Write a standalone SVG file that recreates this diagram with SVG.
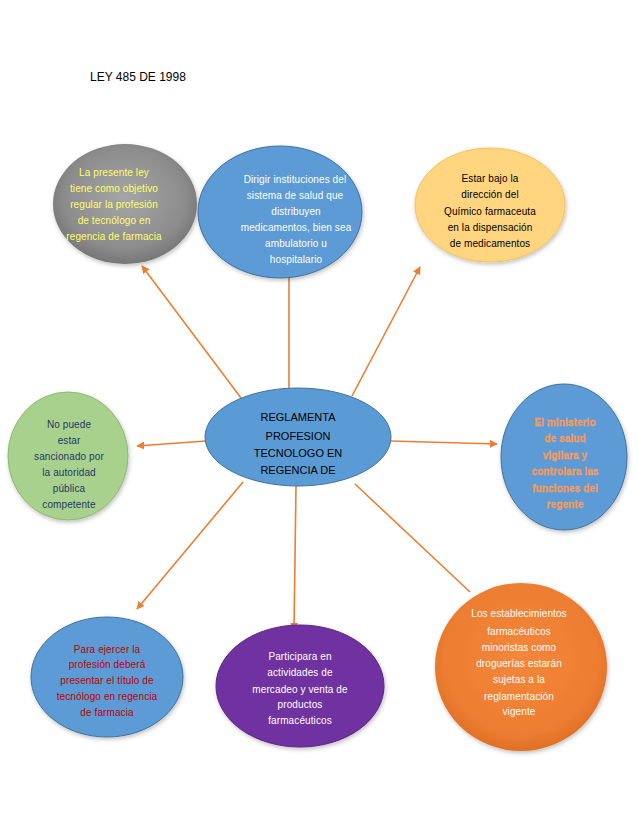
<svg xmlns="http://www.w3.org/2000/svg" width="638" height="826" viewBox="0 0 638 826">
<defs>
<style>
.t{font-family:"Liberation Sans","DejaVu Sans",sans-serif;font-size:10px;text-anchor:middle;letter-spacing:0.1px}
.c{font-family:"Liberation Sans",Arial,sans-serif;font-size:11px;text-anchor:middle;fill:#000}
.con{stroke:#ED7D31;stroke-width:1.6;fill:none}
</style>
<marker id="ah" viewBox="0 0 10 10" refX="9" refY="5" markerWidth="5" markerHeight="5" orient="auto">
<path d="M0,0 L10,5 L0,10 z" fill="#ED7D31"/>
</marker>
<radialGradient id="gGray" cx="0.5" cy="0.45" r="0.6">
<stop offset="0" stop-color="#A6A6A6"/><stop offset="0.7" stop-color="#8C8C8C"/><stop offset="1" stop-color="#6E6E6E"/>
</radialGradient>
<radialGradient id="gOrange" cx="0.5" cy="0.45" r="0.6">
<stop offset="0" stop-color="#F4873A"/><stop offset="0.75" stop-color="#ED7D31"/><stop offset="1" stop-color="#D9691F"/>
</radialGradient>
<filter id="sh" x="-20%" y="-20%" width="140%" height="140%">
<feDropShadow dx="1" dy="2" stdDeviation="2" flood-color="#000" flood-opacity="0.25"/>
</filter>
</defs>
<rect width="638" height="826" fill="#fff"/>
<text x="90" y="81" style="font-family:'Liberation Sans',Arial,sans-serif;font-size:12px;fill:#000">LEY 485 DE 1998</text>
<g id="connectors">
<line class="con" x1="241" y1="398" x2="142" y2="266" marker-end="url(#ah)"/>
<line class="con" x1="289" y1="389" x2="289" y2="270"/>
<line class="con" x1="352" y1="396" x2="420" y2="267" marker-end="url(#ah)"/>
<line class="con" x1="206" y1="441" x2="137" y2="446" marker-end="url(#ah)"/>
<line class="con" x1="391" y1="441" x2="497" y2="444" marker-end="url(#ah)"/>
<line class="con" x1="243" y1="482" x2="137" y2="609" marker-end="url(#ah)"/>
<line class="con" x1="296" y1="486" x2="294" y2="630" marker-end="url(#ah)"/>
<line class="con" x1="355" y1="484" x2="470" y2="592"/>
</g>
<g id="n_gray">
<ellipse cx="125" cy="204" rx="72" ry="60" fill="url(#gGray)" filter="url(#sh)"/>
<g class="t" fill="#FFFF66">
<text x="114" y="176">La presente ley</text>
<text x="114" y="192">tiene como objetivo</text>
<text x="114" y="208">regular la profesión</text>
<text x="114" y="224">de tecnólogo en</text>
<text x="114" y="240">regencia de farmacia</text>
</g>
</g>
<g id="n_blue_top">
<ellipse cx="280" cy="212" rx="82" ry="66" fill="#5B9BD5" stroke="#41719C" stroke-width="1" filter="url(#sh)"/>
<g class="t" fill="#fff">
<text x="295" y="183">Dirigir instituciones del</text>
<text x="295" y="199">sistema de salud que</text>
<text x="296" y="215">distribuyen</text>
<text x="296" y="231">medicamentos, bien sea</text>
<text x="296" y="247">ambulatorio u</text>
<text x="296" y="263">hospitalario</text>
</g>
</g>
<g id="n_yellow">
<ellipse cx="490" cy="205" rx="75" ry="57" fill="#FFD57F" stroke="#F2C25B" stroke-width="1" filter="url(#sh)"/>
<g class="t" fill="#000">
<text x="490" y="182">Estar bajo la</text>
<text x="490" y="198">dirección del</text>
<text x="490" y="215">Químico farmaceuta</text>
<text x="490" y="231">en la dispensación</text>
<text x="490" y="247">de medicamentos</text>
</g>
</g>
<g id="n_center">
<ellipse cx="298" cy="437" rx="93" ry="49" fill="#5B9BD5" stroke="#41719C" stroke-width="1"/>
<text class="c" x="298" y="421">REGLAMENTA</text>
<text class="c" x="298" y="440">PROFESION</text>
<text class="c" x="298" y="457">TECNOLOGO EN</text>
<text class="c" x="298" y="474">REGENCIA DE</text>
</g>
<g id="n_green">
<ellipse cx="68" cy="456" rx="60" ry="64" fill="#A9D18E" stroke="#8DB870" stroke-width="1" filter="url(#sh)"/>
<g class="t" fill="#1F3864">
<text x="69" y="428">No puede</text>
<text x="69" y="444">estar</text>
<text x="69" y="460">sancionado por</text>
<text x="69" y="476">la autoridad</text>
<text x="69" y="492">pública</text>
<text x="69" y="508">competente</text>
</g>
</g>
<g id="n_blue_right">
<ellipse cx="564" cy="457" rx="63" ry="73" fill="#5B9BD5" stroke="#41719C" stroke-width="1" filter="url(#sh)"/>
<g class="t" fill="#F58A3C" stroke="#F9B27A" stroke-width="0.3" font-weight="bold">
<text x="565" y="426">El ministerio</text>
<text x="565" y="442">de salud</text>
<text x="565" y="459">vigilara y</text>
<text x="565" y="475">controlara las</text>
<text x="565" y="492">funciones del</text>
<text x="565" y="508">regente</text>
</g>
</g>
<g id="n_blue_bl">
<ellipse cx="107" cy="677" rx="76" ry="60" fill="#5B9BD5" stroke="#41719C" stroke-width="1" filter="url(#sh)"/>
<g class="t" fill="#C00000">
<text x="107" y="653">Para ejercer la</text>
<text x="107" y="668">profesión deberá</text>
<text x="107" y="684">presentar el título de</text>
<text x="107" y="700">tecnólogo en regencia</text>
<text x="107" y="716">de farmacia</text>
</g>
</g>
<g id="n_purple">
<ellipse cx="300" cy="686" rx="84" ry="61" fill="#7030A0" stroke="#5A2682" stroke-width="1" filter="url(#sh)"/>
<g class="t" fill="#fff">
<text x="300" y="660">Participara en</text>
<text x="300" y="676">actividades de</text>
<text x="300" y="693">mercadeo y venta de</text>
<text x="300" y="708">productos</text>
<text x="300" y="724">farmacéuticos</text>
</g>
</g>
<g id="n_orange">
<ellipse cx="521" cy="667" rx="86" ry="84" fill="url(#gOrange)" filter="url(#sh)"/>
<g class="t" fill="#fff">
<text x="519" y="617">Los establecimientos</text>
<text x="519" y="635">farmacéuticos</text>
<text x="519" y="651">minoristas como</text>
<text x="519" y="667">droguerías estarán</text>
<text x="519" y="683">sujetas a la</text>
<text x="519" y="700">reglamentación</text>
<text x="519" y="715">vigente</text>
</g>
</g>
</svg>
